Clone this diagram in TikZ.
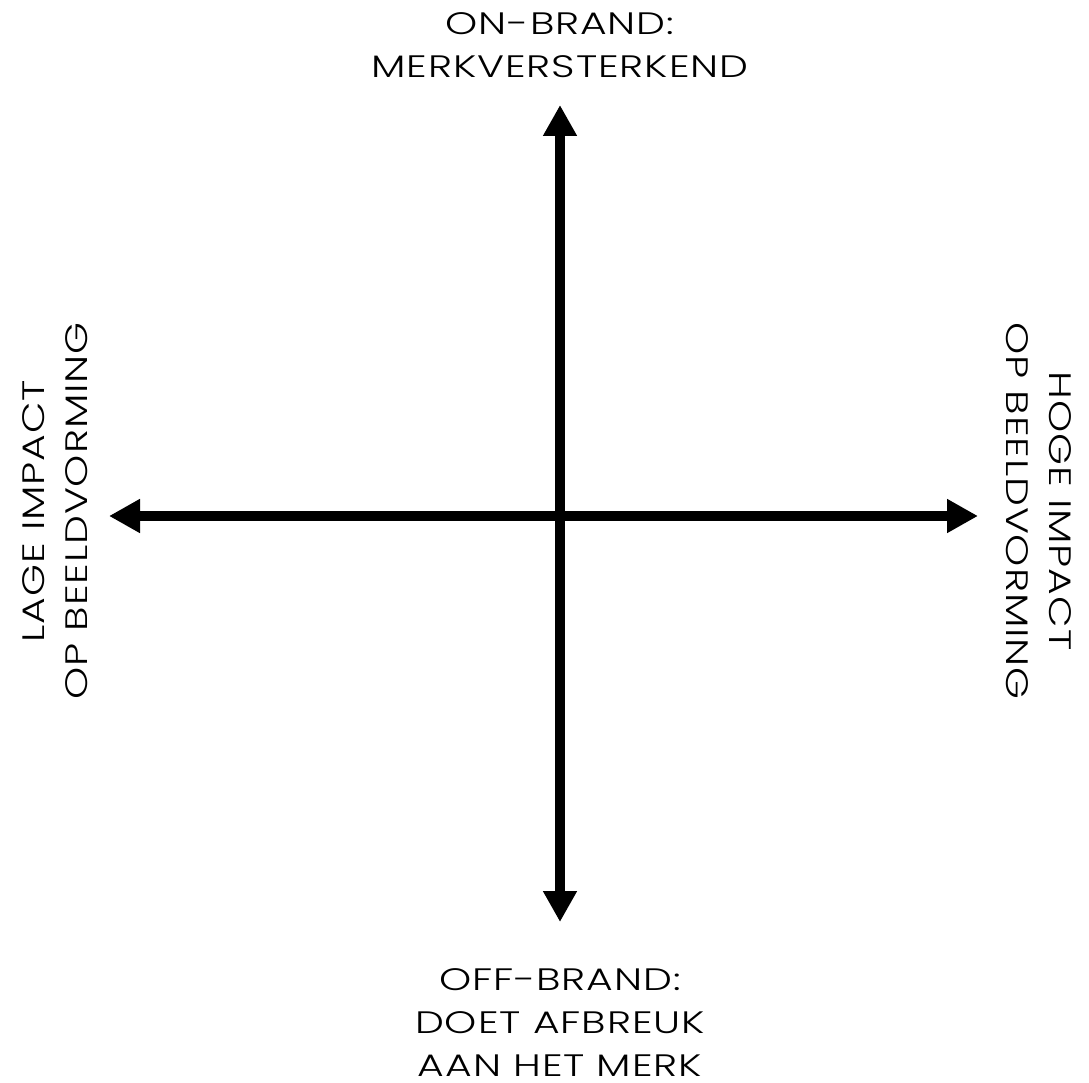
\documentclass[tikz,border=0pt]{standalone}
\usepackage{fontspec}
\setmainfont{Poppins Light}[FakeStretch=1.32, LetterSpace=3]
\usetikzlibrary{arrows.meta}

\tikzset{
  axis/.style={line width=10pt, {Triangle[length=31pt,width=32pt]}-{Triangle[length=31pt,width=32pt]}},
  label/.style={align=center, inner sep=0pt, font=\fontsize{31}{43}\selectfont}
}

\begin{document}
\begin{tikzpicture}[x=1pt, y=-1pt]
    \useasboundingbox (0,0) rectangle (1089,1083);

    % Assen
    \coordinate (mid) at (560,516);
    \coordinate (boven) at (560,105);
    \coordinate (onder) at (560,922);
    \coordinate (links) at (109,516);
    \coordinate (rechts) at (978,516);
    \draw[axis] (onder) -- (boven);
    \draw[axis] (links) -- (rechts);

    % Labels
    \node[label] (onbrand) at (560,45) {ON-BRAND:\\MERKVERSTERKEND};
    \node[label] (offbrand) at (560,1023) {OFF-BRAND:\\DOET AFBREUK\\AAN HET MERK};
    \node[label, rotate=90] (lage) at (55,511) {LAGE IMPACT\\OP BEELDVORMING};
    \node[label, rotate=-90] (hoge) at (1039,511) {HOGE IMPACT\\OP BEELDVORMING};
\end{tikzpicture}
\end{document}
